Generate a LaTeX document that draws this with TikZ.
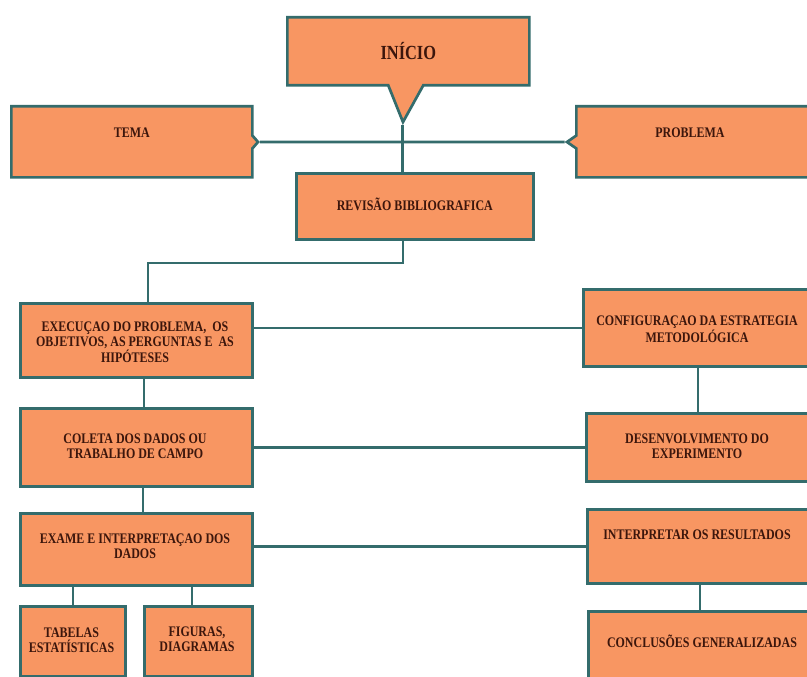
\documentclass[tikz,border=0pt]{standalone}
\usepackage{fontspec}
\setmainfont{Liberation Serif}[FakeStretch=0.82]
\usetikzlibrary{shapes.callouts}
\definecolor{fillc}{RGB}{248,150,98}
\definecolor{edgec}{RGB}{52,108,108}
\definecolor{txtc}{RGB}{60,22,12}
\tikzset{
  box/.style={draw=edgec, line width=2.7pt, fill=fillc, inner sep=0pt, anchor=north west},
  lbl/.style={text=txtc, font=\bfseries\fontsize{14.6}{15.5}\selectfont, align=center, inner sep=0pt},
  conn/.style={draw=edgec, line width=2.7pt},
}
\begin{document}
\begin{tikzpicture}[x=1pt,y=-1pt]
\useasboundingbox (0,0) rectangle (807,677);
\clip (0,0) rectangle (807,677);
\fill[white] (0,0) rectangle (807,677);

% boxes
\node[box, rectangle callout, callout absolute pointer={(403,122)}, callout pointer width=35pt,
      minimum width=242pt, minimum height=68pt] (inicio) at (286,16) {};
\node[box, rectangle callout, callout absolute pointer={(258,142)}, callout pointer width=13pt,
      minimum width=241pt, minimum height=71pt] (tema) at (10,105) {};
\node[box, rectangle callout, callout absolute pointer={(567,142)}, callout pointer width=13pt,
      minimum width=240pt, minimum height=71pt] (problema) at (575,105) {};
\node[box, minimum width=237pt, minimum height=66pt] (revisao) at (295,172) {};
\node[box, minimum width=232pt, minimum height=74pt] (execucao) at (19,302) {};
\node[box, minimum width=230pt, minimum height=77pt] (config) at (582,288) {};
\node[box, minimum width=232pt, minimum height=78pt] (coleta) at (19,407) {};
\node[box, minimum width=227pt, minimum height=68pt] (desenv) at (585,412) {};
\node[box, minimum width=232pt, minimum height=72pt] (exame) at (19,512) {};
\node[box, minimum width=226pt, minimum height=74pt] (interp) at (586,508) {};
\node[box, minimum width=225pt, minimum height=80pt] (concl) at (587,610) {};
\node[box, minimum width=105pt, minimum height=70pt] (tabelas) at (19,605) {};
\node[box, minimum width=108pt, minimum height=70pt] (figuras) at (143,605) {};

% texts
\node[lbl, font=\bfseries\fontsize{20}{22}\selectfont] (inicio-t) at (inicio.center) {INÍCIO};
\node[lbl] (tema-t) at (tema.center |- 0,133) {TEMA};
\node[lbl] (problema-t) at (690,133) {PROBLEMA};
\node[lbl] (revisao-t) at (revisao.center |- 0,204) {REVISÃO BIBLIOGRAFICA};
\node[lbl] (execucao-t) at (135,342) {EXECUÇAO DO PROBLEMA,\ \ OS\\OBJETIVOS, AS PERGUNTAS E\ \ AS\\HIPÓTESES};
\node[lbl] (config-t) at (697,329) {CONFIGURAÇAO DA ESTRATEGIA\\METODOLÓGICA};
\node[lbl] (coleta-t) at (135,446) {COLETA DOS DADOS OU\\TRABALHO DE CAMPO};
\node[lbl] (desenv-t) at (697,446) {DESENVOLVIMENTO DO\\EXPERIMENTO};
\node[lbl] (exame-t) at (135,546) {EXAME E INTERPRETAÇAO DOS\\DADOS};
\node[lbl] (interp-t) at (697,535) {INTERPRETAR OS RESULTADOS};
\node[lbl] (concl-t) at (702,641) {CONCLUSÕES GENERALIZADAS};
\node[lbl] (tabelas-t) at (71.5,640) {TABELAS\\ESTATÍSTICAS};
\node[lbl] (figuras-t) at (197,639) {FIGURAS,\\DIAGRAMAS};

% connectors
\coordinate (j1) at (403,263);
\coordinate (j2) at (148,263);
\draw[conn] (tema.pointer) -- (problema.pointer);
\draw[conn] (inicio.pointer) -- (inicio.pointer |- revisao.north);
\draw[conn] (j1 |- revisao.south) -- (j1) -- (j2) -- (j2 |- execucao.north);
\draw[conn] (execucao.east |- config.west) -- (config.west);
\draw[conn] (execucao.south -| 144,0) -- (coleta.north -| 144,0);
\draw[conn] (config.south -| 698,0) -- (desenv.north -| 698,0);
\draw[conn] (coleta.east) -- (desenv.west);
\draw[conn] (coleta.south -| 143,0) -- (exame.north -| 143,0);
\draw[conn] (exame.east |- interp.west) -- (interp.west);
\draw[conn] (interp.south -| 700,0) -- (concl.north -| 700,0);
\draw[conn] (exame.south -| tabelas.north) -- (tabelas.north);
\draw[conn] (exame.south -| 192,0) -- (figuras.north -| 192,0);
\end{tikzpicture}
\end{document}
